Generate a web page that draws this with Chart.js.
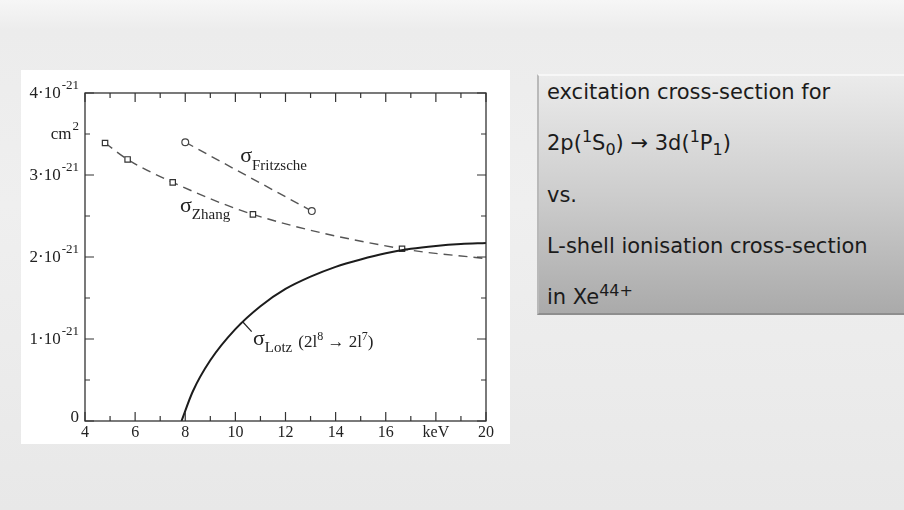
<!DOCTYPE html>
<html>
<head>
<meta charset="utf-8">
<script src="https://cdn.jsdelivr.net/npm/chart.js@4.4.1/dist/chart.umd.min.js"></script>
<style>
  html, body { margin: 0; padding: 0; }
  body {
    width: 904px; height: 510px; overflow: hidden; position: relative;
    background: linear-gradient(180deg, #f6f6f6 0%, #ececec 6%, #efefef 40%, #ebebeb 75%, #e8e8e8 100%);
    font-family: "DejaVu Sans", sans-serif;
  }
  #plot { position: absolute; left: 21px; top: 70px; width: 489px; height: 374px; background: #fff; }
  #note {
    position: absolute; left: 537px; top: 74px; width: 380px; height: 241px; box-sizing: border-box;
    background: linear-gradient(180deg, #ebebeb 0%, #cdcdcd 50%, #aaaaaa 100%);
    border-top: 2px solid #f7f7f7; border-left: 2px solid #b9b9b9; border-bottom: 2px solid #8e8e8e;
  }
  #noteText {
    position: absolute; left: 547px; top: 67px; font-size: 21px; line-height: 51.25px;
    color: #1b1b1b; white-space: nowrap;
  }
  sup, sub { font-size: 16px; line-height: 0; }
</style>
</head>
<body>
<div id="plot"><canvas id="xsChart" width="489" height="374"></canvas></div>
<div id="note"></div>
<div id="noteText">excitation cross-section for<br>2p(<sup>1</sup>S<sub>0</sub>) → 3d(<sup>1</sup>P<sub>1</sub>)<br>vs.<br>L-shell ionisation cross-section<br>in Xe<sup>44+</sup></div>

<script>
// cross sections in units of 1e-21 cm^2, energies in keV
const energyZhang = [4.8, 5.7, 7.5, 10.7, 16.65, 20];
const sigmaZhang = [3.39, 3.19, 2.91, 2.52, 2.10, 1.98];
const markerZhang = [3.8, 3.8, 3.8, 3.8, 3.8, 0];

const energyFritzsche = [8.0, 13.05];
const sigmaFritzsche = [3.40, 2.56];

const energyLotz = [7.85, 8.3, 9, 10, 11, 12, 13, 14, 15, 16, 17, 18, 19, 20];
const sigmaLotz = [0, 0.36, 0.74, 1.12, 1.40, 1.61, 1.76, 1.88, 1.97, 2.045, 2.10, 2.135, 2.158, 2.17];

const xTicks = [4, 6, 8, 10, 12, 14, 16, 18, 20];
const xTickLabels = ['4', '6', '8', '10', '12', '14', '16', 'keV', '20'];
const yTicks = [0, 1, 2, 3, 3.5, 4];
const yTickLabels = [['0', ''], ['1·10', '-21'], ['2·10', '-21'], ['3·10', '-21'], ['cm', '2'], ['4·10', '-21']];

const SERIF = '"Liberation Serif", "Times New Roman", serif';
const INK = '#222';

function toPoints(xs, ys) {
  return xs.map((x, i) => ({ x: x, y: ys[i] }));
}

// draws a run of [text, size, rise] pieces left to right from (x, y)
function drawRun(ctx, x, y, parts) {
  parts.forEach(p => {
    ctx.font = p[1] + 'px ' + SERIF;
    ctx.fillText(p[0], x, y - (p[2] || 0));
    x += ctx.measureText(p[0]).width;
  });
  return x;
}

// frame with inward ticks, tick labels and curve labels
const framePlugin = {
  id: 'frame',
  afterDatasetsDraw(chart) {
    const ctx = chart.ctx;
    const a = chart.chartArea;
    const xs = chart.scales.x;
    const ys = chart.scales.y;
    ctx.save();
    ctx.strokeStyle = '#333';
    ctx.lineWidth = 1.3;
    ctx.strokeRect(a.left, a.top, a.right - a.left, a.bottom - a.top);

    ctx.lineWidth = 1.2;
    ctx.beginPath();
    for (let v = 4; v <= 20; v += 1) {
      const px = xs.getPixelForValue(v);
      const len = v % 2 === 0 ? 9 : 5;
      ctx.moveTo(px, a.bottom); ctx.lineTo(px, a.bottom - len);
      ctx.moveTo(px, a.top); ctx.lineTo(px, a.top + len);
    }
    for (let v = 0; v <= 4; v += 0.5) {
      const py = ys.getPixelForValue(v);
      const len = Number.isInteger(v) ? 9 : 5;
      ctx.moveTo(a.left, py); ctx.lineTo(a.left + len, py);
      ctx.moveTo(a.right, py); ctx.lineTo(a.right - len, py);
    }
    ctx.stroke();

    ctx.fillStyle = INK;
    ctx.font = '16px ' + SERIF;
    ctx.textAlign = 'center';
    ctx.textBaseline = 'middle';
    xTicks.forEach((v, i) => {
      ctx.fillText(xTickLabels[i], xs.getPixelForValue(v), a.bottom + 12);
    });

    ctx.textAlign = 'right';
    yTicks.forEach((v, i) => {
      const py = ys.getPixelForValue(v) + (v === 0 ? -3 : 1);
      const right = a.left - 6;
      const [main, sup] = yTickLabels[i];
      ctx.font = '13px ' + SERIF;
      ctx.fillText(sup, right, py - 8);
      const supW = sup ? ctx.measureText(sup).width + 1 : 0;
      ctx.font = 17 + 'px ' + SERIF;
      ctx.fillText(main, right - supW, py);
    });

    ctx.textAlign = 'left';
    ctx.textBaseline = 'alphabetic';
    let x = xs.getPixelForValue(10.19), y = ys.getPixelForValue(3.16);
    drawRun(ctx, x, y, [['σ', 22, 0], ['Fritzsche', 15, -8]]);

    x = xs.getPixelForValue(7.79); y = ys.getPixelForValue(2.55);
    drawRun(ctx, x, y, [['σ', 22, 0], ['Zhang', 15, -7]]);

    x = xs.getPixelForValue(10.70); y = ys.getPixelForValue(0.93);
    x = drawRun(ctx, x, y, [['σ', 22, 0], ['Lotz', 15, -7]]);
    drawRun(ctx, x + 6, y + 2, [['(2l', 17, 0], ['8', 12, 7], [' → 2l', 17, 0], ['7', 12, 7], [')', 17, 0]]);

    ctx.lineWidth = 1.2;
    ctx.strokeStyle = INK;
    ctx.beginPath();
    ctx.moveTo(xs.getPixelForValue(10.29), ys.getPixelForValue(1.21));
    ctx.lineTo(xs.getPixelForValue(10.65), ys.getPixelForValue(1.09));
    ctx.stroke();
    ctx.restore();
  }
};

new Chart(document.getElementById('xsChart').getContext('2d'), {
  type: 'scatter',
  data: {
    datasets: [
      {
        label: 'Lotz',
        data: toPoints(energyLotz, sigmaLotz),
        showLine: true,
        borderColor: '#1c1c1c',
        borderWidth: 2,
        pointRadius: 0,
        cubicInterpolationMode: 'monotone'
      },
      {
        label: 'Zhang',
        data: toPoints(energyZhang, sigmaZhang),
        showLine: true,
        borderColor: '#555',
        borderWidth: 1.4,
        borderDash: [9, 6],
        cubicInterpolationMode: 'monotone',
        pointStyle: 'rect',
        pointRadius: markerZhang,
        pointBackgroundColor: '#fff',
        pointBorderColor: '#333',
        pointBorderWidth: 1.2
      },
      {
        label: 'Fritzsche',
        data: toPoints(energyFritzsche, sigmaFritzsche),
        showLine: true,
        borderColor: '#555',
        borderWidth: 1.4,
        borderDash: [9, 6],
        pointStyle: 'circle',
        pointRadius: 3.4,
        pointBackgroundColor: '#fff',
        pointBorderColor: '#444',
        pointBorderWidth: 1.2
      }
    ]
  },
  options: {
    responsive: false,
    animation: false,
    layout: { padding: { left: 64, right: 24, top: 23, bottom: 23 } },
    scales: {
      x: { type: 'linear', min: 4, max: 20, display: false },
      y: { type: 'linear', min: 0, max: 4, display: false }
    },
    plugins: {
      legend: { display: false },
      tooltip: { enabled: false }
    }
  },
  plugins: [framePlugin]
});
</script>
</body>
</html>
